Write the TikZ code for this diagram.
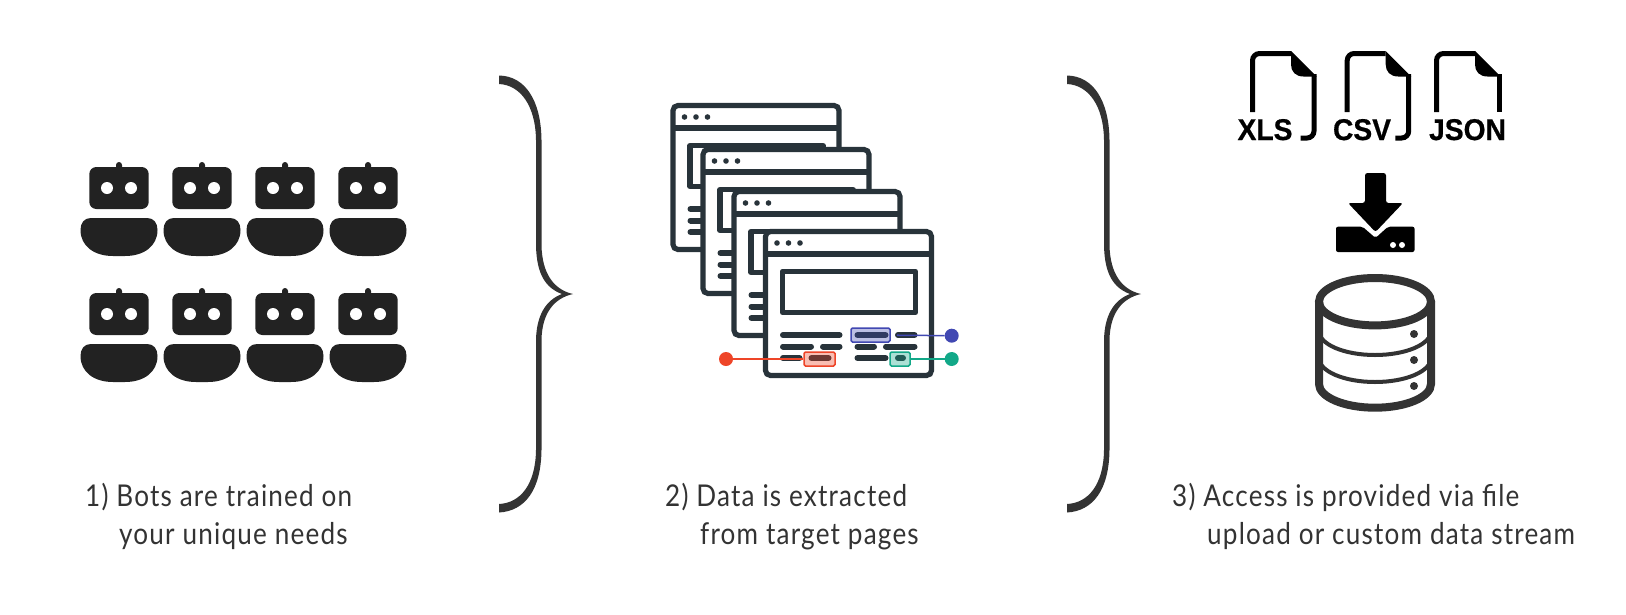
\documentclass[tikz,border=0pt]{standalone}
\usepackage{fontspec}
\setmainfont{Lato}[FakeStretch=0.87,LetterSpace=4]
\newfontfamily\iconfont{Liberation Sans}[FakeStretch=0.94,FakeBold=0.6]
\definecolor{botc}{HTML}{222222}
\definecolor{winc}{HTML}{28333A}
\definecolor{grayc}{HTML}{333333}
\definecolor{bluec}{HTML}{4148B2}
\definecolor{greenc}{HTML}{12A888}
\definecolor{redc}{HTML}{EE4528}
\tikzset{
  x=1pt,y=-1pt,
  caption/.style={anchor=base west,inner sep=0,text=grayc,font=\fontsize{30}{32}\selectfont},
  filelabel/.style={anchor=base,inner sep=0,text=black,font=\iconfont\bfseries\fontsize{30}{30}\selectfont},
  hbox/.style={draw=#1,line width=1.5pt,fill=#1,fill opacity=.35,rounded corners=1.5pt,inner sep=0,minimum height=14pt,rectangle},
  hdot/.style={circle,fill=#1,inner sep=0,minimum size=14pt},
  hline/.style={draw=#1,line width=1.5pt},
  wl/.style={line width=6pt,line cap=round,draw=winc},
  bracefill/.style={fill=grayc},
  pics/bot/.style={code={
    \fill[botc] (-3,8) -- (-3,3) arc (180:360:3 and 3) -- (3,8) -- cycle;
    \fill[botc,rounded corners=7pt] (-29.7,5) rectangle (29.7,47);
    \fill[white] (-12,26) circle[radius=6] (12,26) circle[radius=6];
    \fill[botc] (-28,56) -- (28,56) .. controls (35,56) and (38.5,61) .. (38.5,68)
      .. controls (38.5,84) and (25,94) .. (6,94) -- (-6,94)
      .. controls (-25,94) and (-38.5,84) .. (-38.5,68)
      .. controls (-38.5,61) and (-35,56) .. (-28,56) -- cycle;
  }},
  pics/webwin/.style={code={
    \draw[winc,fill=white,line width=5.2pt,rounded corners=5pt] (0,0) rectangle (166,144);
    \draw[winc,line width=5.2pt] (0,22.5) -- (166,22.5);
    \fill[winc] (11.5,11.5) circle[radius=2.8] (23,11.5) circle[radius=2.8] (34.5,11.5) circle[radius=2.8];
    \draw[winc,line width=5.2pt,line join=round] (17,40) rectangle (150,81);
    \foreach \a/\b/\c in {17.5/74/103.5,92/120/103.5,132.5/149/103.5,
        17.5/45.5/115,57.5/74/115,92/108.5/115,120.5/149/115,
        17.5/34/126.5,46/63/126.5,92/120/126.5,132.5/137.5/126.5}
      \draw[wl] (\a,\c) -- (\b,\c);
  }},
  pics/docfile/.style={code={
    \draw[black,line width=5pt,rounded corners=7pt] (0,58.5) -- (0,0) -- (38.5,0);
    \fill[black] (38.5,-2.5) -- (64.2,23.2) -- (51,23) .. controls (43,23) and (38.5,18) .. (38.5,11) -- cycle;
  }},
  pics/brace/.style={code={
    \fill[bracefill] (499,75.5) .. controls (525,76) and (541,100) .. (541.5,140)
      -- (541.5,245) .. controls (542,275) and (555,290) .. (573,294)
      .. controls (555,298) and (542,312) .. (541.5,340)
      -- (541.5,450) .. controls (541,490) and (525,511) .. (499,512.5)
      -- (499,504) .. controls (520,503) and (535.5,485) .. (536,450)
      -- (536,340) .. controls (536.5,315) and (546,300) .. (562,294)
      .. controls (546,288) and (536.5,275) .. (536,245)
      -- (536,140) .. controls (535.5,105) and (520,85) .. (499,84) -- cycle;
  }}
}
\begin{document}
\begin{tikzpicture}
\useasboundingbox (0,0) rectangle (1626,614);
\fill[white] (0,0) rectangle (1626,614);
% bots
\foreach \i in {0,1,2,3}{
  \pic at (119+83*\i,162) {bot};
  \pic at (119+83*\i,288) {bot};
}
% braces
\pic at (0,0) {brace};
\pic at (568,0) {brace};
% windows
\pic at (673,105.5) {webwin};
\pic at (703,149.5) {webwin};
\pic at (734,191.5) {webwin};
\pic at (765.5,231.5) {webwin};
% highlights
\node[hbox=bluec,minimum width=39pt] (bb) at (870.5,335) {};
\node[hbox=greenc,minimum width=20pt] (gb) at (900,359) {};
\node[hbox=redc,minimum width=31pt] (rb) at (819.5,359) {};
\node[hdot=bluec] (bd) at (951.7,335.7) {};
\node[hdot=greenc] (gd) at (951.7,359) {};
\node[hdot=redc] (rd) at (726,359) {};
\draw[hline=bluec,shorten >=6pt] (bd) -- (bb);
\draw[hline=greenc] (gd) -- (gb);
\draw[hline=redc] (rd) -- (rb);
% files
\pic at (1252.5,53.5) {docfile};
\draw[black,line width=5pt,rounded corners=7pt] (1314,74) -- (1314,138) -- (1300.7,138);
\pic at (1347.2,53.5) {docfile};
\draw[black,line width=5pt,rounded corners=7pt] (1408.7,74) -- (1408.7,138) -- (1395.4,138);
\pic at (1436.5,53.5) {docfile};
\draw[black,line width=5pt] (1499.5,74) -- (1499.5,112);
\node[filelabel] (xls) at (1265,140) {XLS};
\node[filelabel] (csv) at (1362,140) {CSV};
\node[filelabel] (json) at (1467.5,140) {JSON};
% download
\fill[black,rounded corners=2.5pt] (1365,173) -- (1386,173) -- (1386,203) -- (1403,203) -- (1375.5,232) -- (1348,203) -- (1365,203) -- cycle;
\fill[black,rounded corners=2pt] (1336,226.7) -- (1362.5,226.7) -- (1375.5,238) -- (1388,226.7) -- (1414.5,226.7) -- (1414.5,252) -- (1336,252) -- cycle;
\fill[white] (1393,245) circle[radius=3] (1402,245) circle[radius=3];
% database
\draw[grayc,line width=8pt] (1375,301.7) ellipse[x radius=56,y radius=23.7];
\draw[grayc,line width=8pt] (1319,301.7) -- (1319,384) arc (180:0:56 and 23.7) -- (1431,301.7);
\draw[grayc,line width=4pt] (1319,331) arc (180:0:56 and 24);
\draw[grayc,line width=4pt] (1319,358) arc (180:0:56 and 24);
\fill[grayc] (1414,334) circle[radius=4] (1414,360) circle[radius=4] (1414,386) circle[radius=4];
% captions
\node[caption] (c1a) at (85,506) {1) Bots are trained on};
\node[caption] (c1b) at (119,544) {your unique needs};
\node[caption] (c2a) at (665,506) {2) Data is extracted};
\node[caption] (c2b) at (700,544) {from target pages};
\node[caption] (c3a) at (1172,506) {3) Access is provided via file};
\node[caption] (c3b) at (1207,544) {upload or custom data stream};
\end{tikzpicture}
\end{document}
